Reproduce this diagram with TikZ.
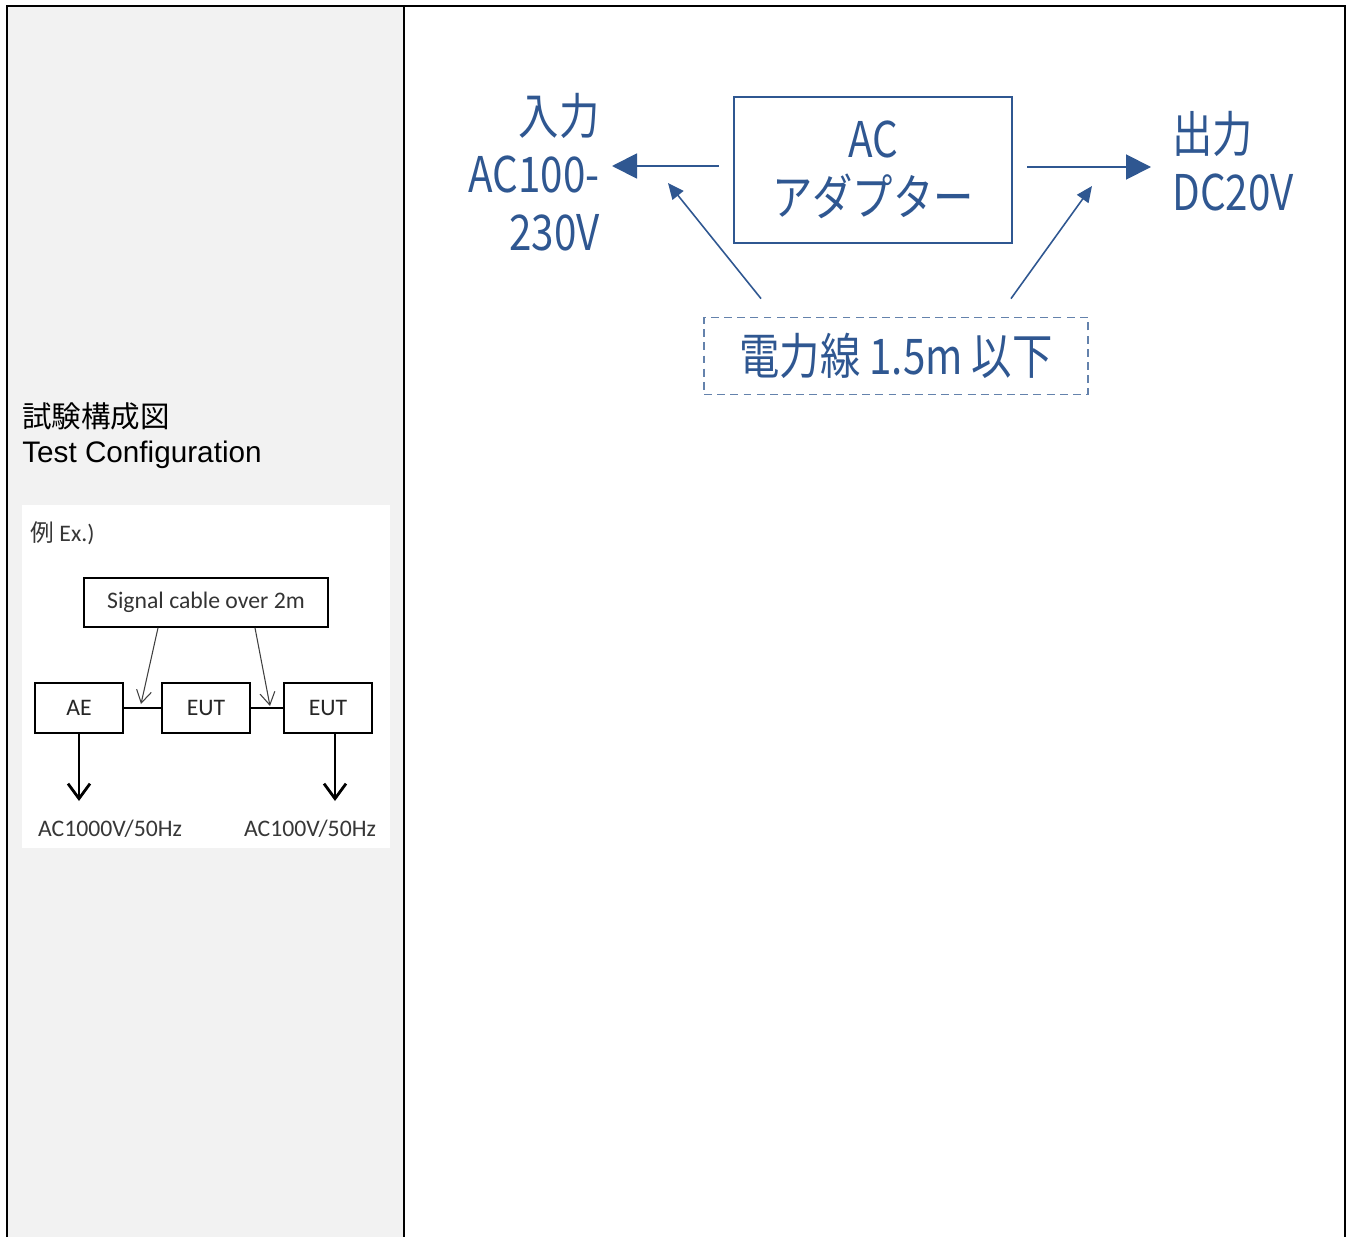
\documentclass[tikz,border=0pt]{standalone}
\usepackage{fontspec}
\setmainfont{Liberation Sans}
\newfontfamily\jpfont{Noto Sans CJK JP}
\newfontfamily\jpnarrow[FakeStretch=0.82]{Noto Sans CJK JP}
\newfontfamily\exfont{Carlito}
\usetikzlibrary{arrows.meta,positioning}
\definecolor{adablue}{RGB}{47,87,145}
\definecolor{adadash}{RGB}{100,130,172}
\definecolor{panelgray}{RGB}{242,242,242}
\definecolor{extext}{RGB}{55,55,55}

\begin{document}
\begin{tikzpicture}[x=0.02cm,y=-0.02cm,
  bluetext/.style={text=adablue,inner sep=0pt,font=\jpnarrow\fontsize{28}{33}\selectfont},
  bigarrow/.style={-{Triangle[length=5mm,width=5mm]},line width=1.1pt,adablue},
  cablearrow/.style={-{Triangle[length=3.2mm,width=2.8mm]},line width=0.9pt,adablue},
  exbox/.style={draw,line width=1.5pt,minimum width=1.76cm,minimum height=1cm,inner sep=0pt,text=black!85,font=\exfont\fontsize{13.5}{16}\selectfont},
  extxt/.style={text=extext,inner sep=0pt,font=\exfont\fontsize{13.5}{16}\selectfont}]
  \useasboundingbox (0,0) rectangle (1348,1237);
  % table frame
  \fill[panelgray] (7,6) rectangle (404,1237);
  \draw[line width=1.2pt] (7,1237) -- (7,6) -- (1345,6) -- (1345,1237);
  \draw[line width=1.2pt] (404,6) -- (404,1237);
  \node[anchor=base west,inner sep=0pt,font=\jpfont\fontsize{16.8}{19}\selectfont] (titlejp) at (22,427) {試験構成図};
  \node[anchor=base west,inner sep=0pt,font=\fontsize{16.9}{20}\selectfont] (titleen) at (22,462) {Test Configuration};
  % example picture
  \fill[white] (22,505) rectangle (390,848);
  \node[extxt,anchor=base west] (exlabel) at (30,541) {{\jpfont 例} Ex.)};
  \node[extxt,draw=black,line width=0.9pt,minimum width=4.88cm,minimum height=0.98cm,text=black!80] (signal) at (206,602.5) {Signal cable over 2m};
  \node[exbox] (ae) at (79,708) {AE};
  \node[exbox] (eut1) at (206,708) {EUT};
  \node[exbox] (eut2) at (328,708) {EUT};
  \draw[line width=1.5pt] (ae) -- (eut1);
  \draw[line width=1.5pt] (eut1) -- (eut2);
  \coordinate (tipa) at (141,704);
  \coordinate (tipb) at (270,706);
  \draw[-{Straight Barb[length=2.5mm,width=3mm]},line width=0.6pt,black!75] ([xshift=-0.96cm]signal.south) -- (tipa);
  \draw[-{Straight Barb[length=2.5mm,width=3mm]},line width=0.6pt,black!75] ([xshift=0.98cm]signal.south) -- (tipb);
  \coordinate (aeend) at (79,801);
  \coordinate (eutend) at (335,801);
  \draw[-{Straight Barb[length=3mm,width=4.4mm]},line width=1.6pt] (ae.south) -- (aeend);
  \draw[-{Straight Barb[length=3mm,width=4.4mm]},line width=1.6pt] (eut2.south -| eutend) -- (eutend);
  \node[extxt] (aepower) at (110,829) {AC1000V/50Hz};
  \node[extxt] (eutpower) at (310,829) {AC100V/50Hz};
  % AC adapter
  \node[bluetext,draw=adablue,line width=1.3pt,minimum width=5.56cm,minimum height=2.92cm,align=center] (adapter) at (873,170) {AC\\アダプター};
  \node[bluetext,anchor=east,align=right] (input) at (600,172) {入力\\AC100-\\230V};
  \node[bluetext,anchor=west,align=left] (output) at (1172,161) {出力\\DC20V};
  \draw[bigarrow] ([xshift=-0.28cm,yshift=0.08cm]adapter.west) -- ([xshift=0.24cm,yshift=0.12cm]input.east);
  \draw[bigarrow] ([xshift=0.28cm,yshift=0.06cm]adapter.east) -- ([xshift=-0.42cm,yshift=-0.12cm]output.west);
  \node[bluetext,draw=adadash,dash pattern=on 4.5pt off 3pt,line width=1pt,minimum width=7.68cm,minimum height=1.54cm] (cable) at (896,356) {電力線 1.5m 以下};
  \coordinate (intip) at (668,183);
  \coordinate (outtip) at (1092,186);
  \draw[cablearrow] ([xshift=-2.7cm,yshift=0.36cm]cable.north) -- (intip);
  \draw[cablearrow] ([xshift=2.3cm,yshift=0.36cm]cable.north) -- (outtip);
\end{tikzpicture}
\end{document}
